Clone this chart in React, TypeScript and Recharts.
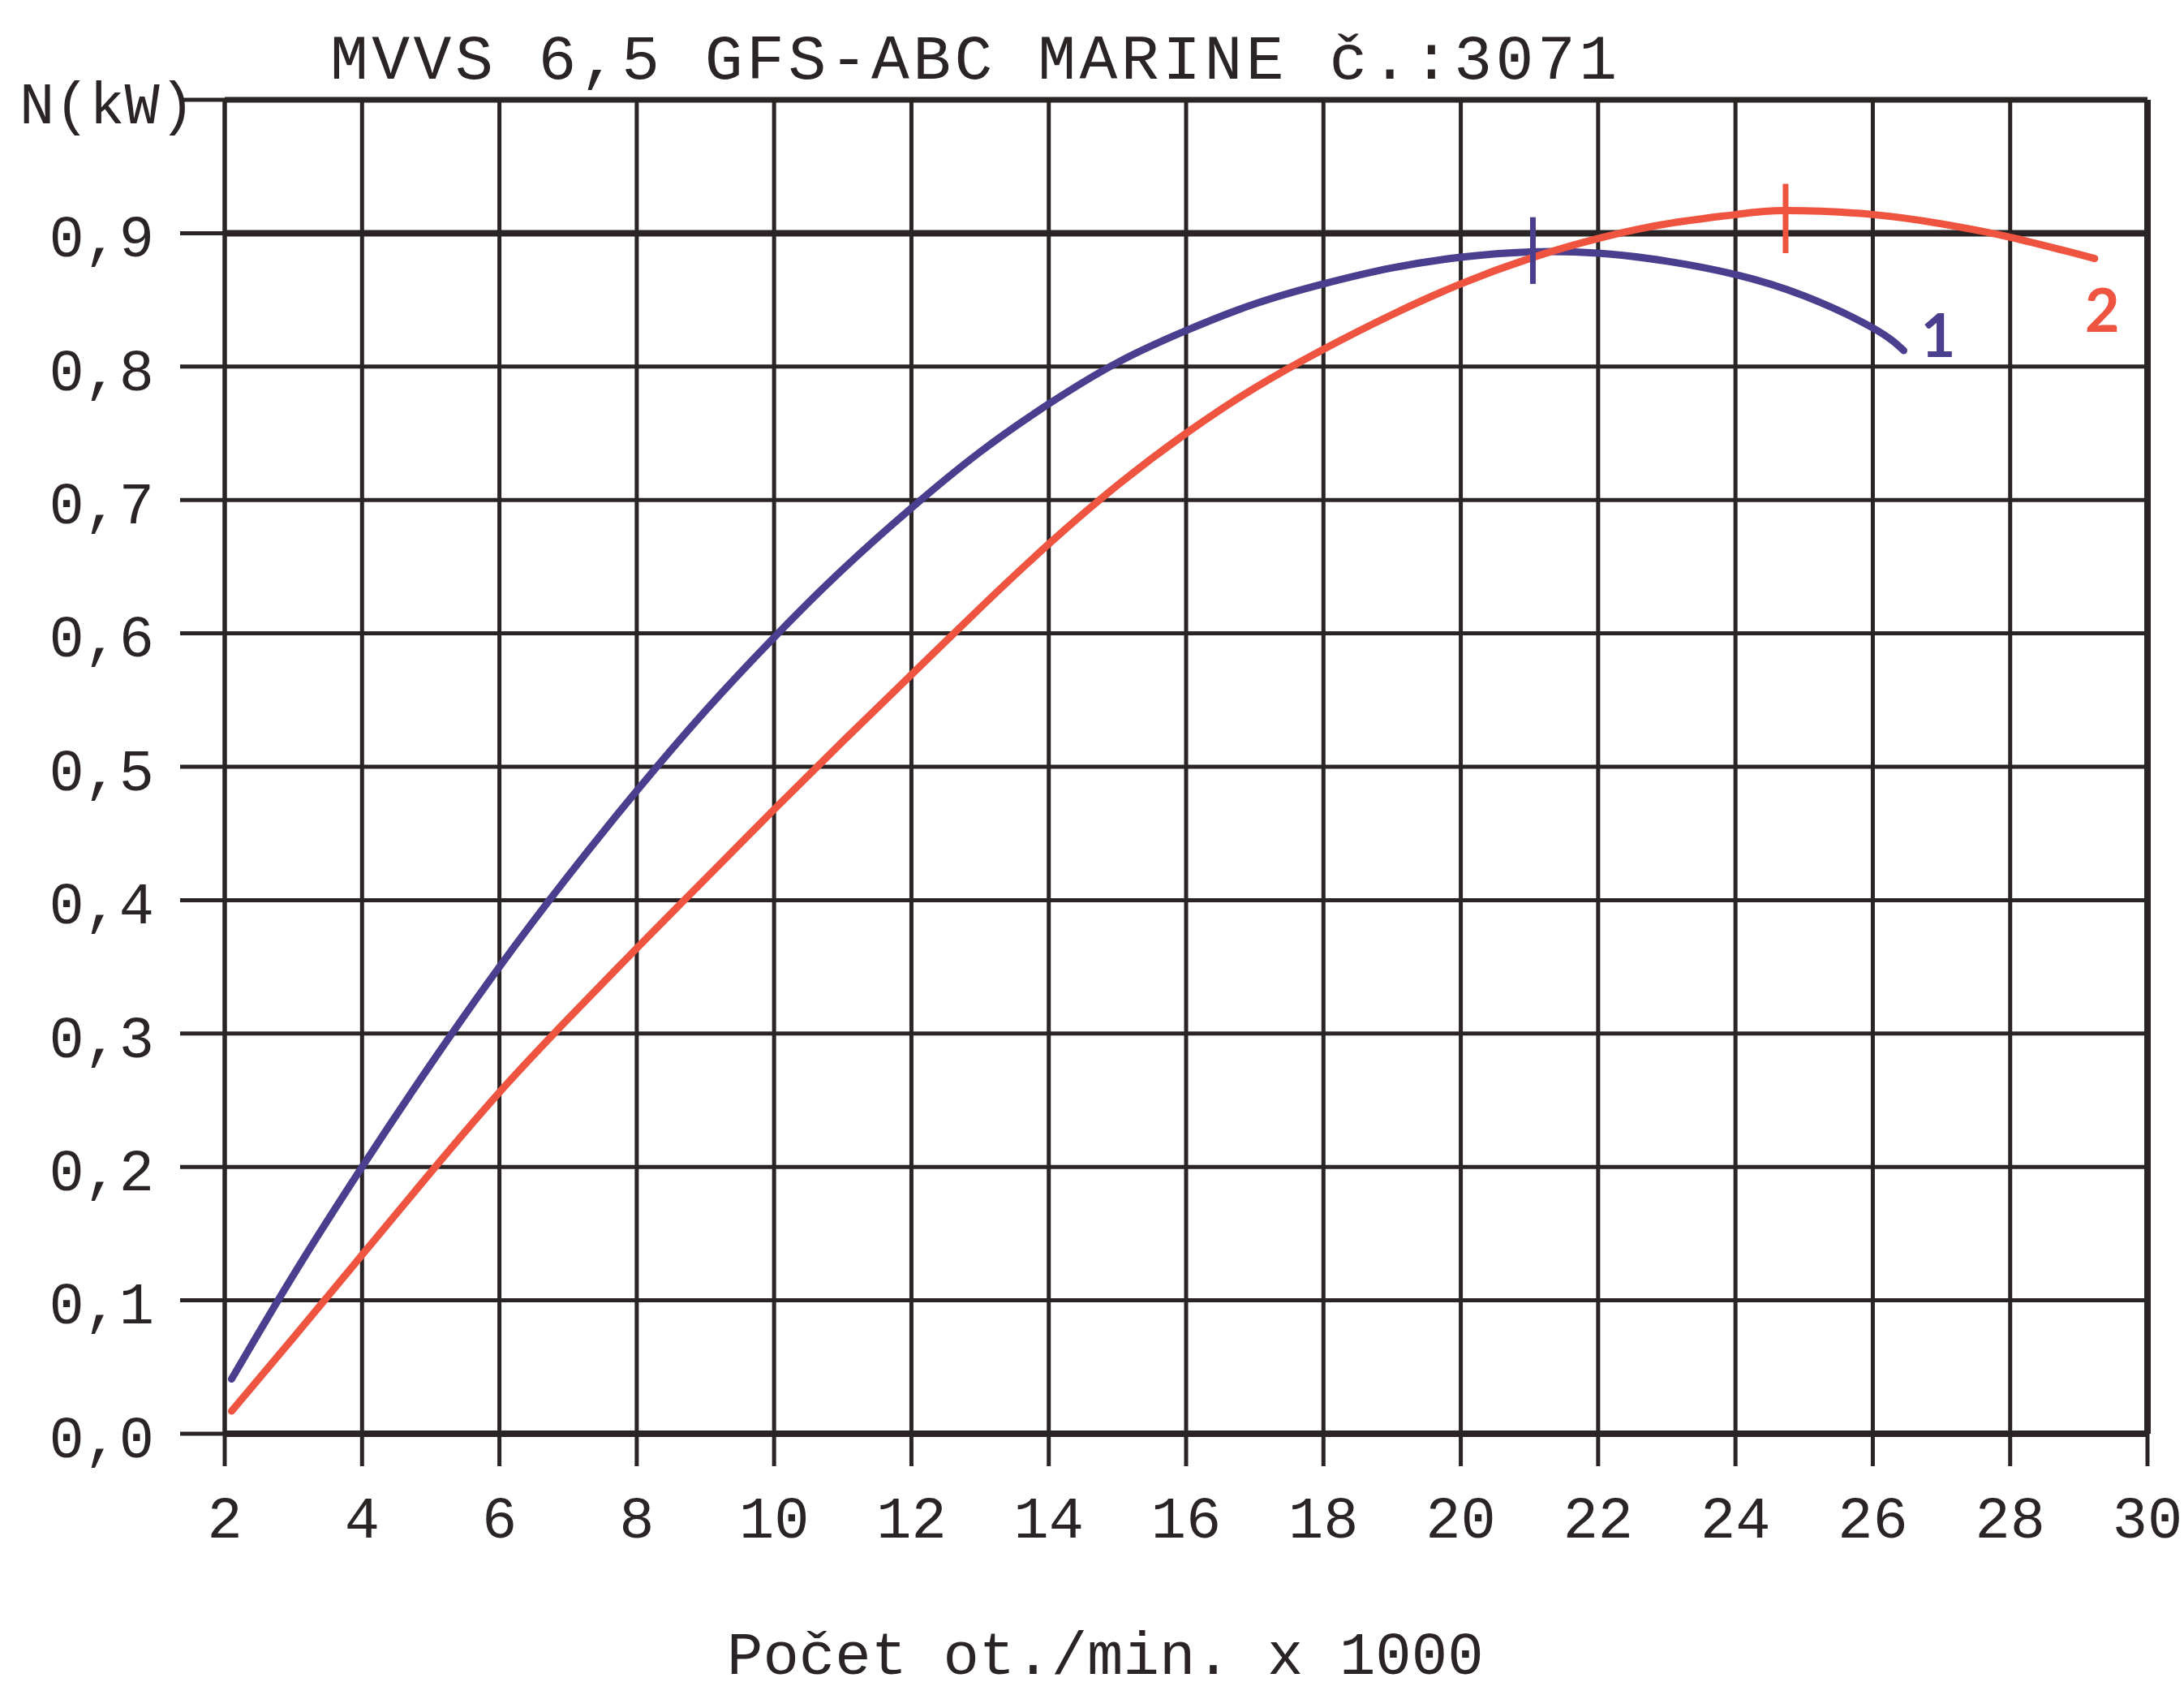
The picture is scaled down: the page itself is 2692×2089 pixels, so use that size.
import React from 'react';
import { LineChart, Line, XAxis, YAxis, CartesianGrid, ReferenceLine, ReferenceDot } from 'recharts';

// otáčky (x 1000 ot./min) a výkon N (kW)
const rpmTicks = [2, 4, 6, 8, 10, 12, 14, 16, 18, 20, 22, 24, 26, 28, 30];
const powerTicks = [0, 0.1, 0.2, 0.3, 0.4, 0.5, 0.6, 0.7, 0.8, 0.9, 1.0];

const rpm1 = [2.1, 3, 4, 5, 6, 7, 8, 9, 10, 11, 12, 13, 14, 15, 16, 17, 18, 19, 20, 21, 22, 23, 24, 25, 26, 26.45];
const power1 = [0.041, 0.119, 0.2, 0.277, 0.35, 0.418, 0.482, 0.542, 0.597, 0.648, 0.694, 0.736, 0.772, 0.803, 0.827, 0.847, 0.862, 0.874, 0.882, 0.886, 0.885, 0.879, 0.869, 0.853, 0.829, 0.812];

const rpm2 = [2.1, 3, 4, 5, 6, 7, 8, 9, 10, 11, 12, 13, 14, 15, 16, 17, 18, 19, 20, 21, 22, 23, 24, 24.73, 26, 27, 28, 29.23];
const power2 = [0.017, 0.072, 0.134, 0.196, 0.256, 0.311, 0.364, 0.416, 0.468, 0.519, 0.569, 0.619, 0.667, 0.711, 0.75, 0.784, 0.813, 0.839, 0.862, 0.881, 0.896, 0.907, 0.914, 0.917, 0.914, 0.907, 0.897, 0.881];

// značky maximálního výkonu
const maxMark1 = { rpm: 21.05, from: 0.862, to: 0.912 };
const maxMark2 = { rpm: 24.73, from: 0.885, to: 0.937 };

// popisky křivek
const curveNames = ['1', '2'];
const namePos1 = { rpm: 26.95, power: 0.823 };
const namePos2 = { rpm: 29.34, power: 0.842 };

const title = 'MVVS 6,5 GFS-ABC MARINE č.:3071';
const xTitle = 'Počet ot./min. x 1000';

const data1 = rpm1.map((r, i) => ({ rpm: r, n: power1[i] }));
const data2 = rpm2.map((r, i) => ({ rpm: r, n: power2[i] }));

const INK = '#2a2425';
const BLUE = '#4a3e8e';
const RED = '#ee5440';
const FONT = '"Liberation Mono", "DejaVu Sans Mono", monospace';

const YTick = ({ x, y, payload }: any) => {
  const v = payload.value;
  const top = Math.abs(v - 1) < 1e-9;
  const text = top ? 'N(kW)' : v.toFixed(1).replace('.', ',');
  return (
    <text x={top ? x + 50 : x} y={y} dy="0.4em" textAnchor="end" fill={INK} fontSize={72} fontFamily={FONT}>
      {text}
    </text>
  );
};

export default function App() {
  return (
    <div style={{ position: 'absolute', left: 0, top: 0, width: 2692, height: 2089, background: '#fff', overflow: 'hidden' }}>
      <div
        style={{
          position: 'absolute', left: 407, top: 37, fontFamily: FONT, fontSize: 78,
          letterSpacing: 4.5, lineHeight: 1, color: INK, whiteSpace: 'nowrap',
        }}
      >
        {title}
      </div>
      <LineChart
        width={2692}
        height={2089}
        margin={{ top: 123, right: 45, bottom: 0, left: 0 }}
      >
        <CartesianGrid stroke={INK} strokeWidth={5} />
        <XAxis
          type="number"
          dataKey="rpm"
          domain={[2, 30]}
          ticks={rpmTicks}
          allowDataOverflow
          height={322}
          tickSize={40}
          tickMargin={37}
          tickLine={{ stroke: INK, strokeWidth: 5 }}
          axisLine={{ stroke: INK, strokeWidth: 8 }}
          tick={{ fill: INK, fontSize: 72, fontFamily: FONT }}
        />
        <YAxis
          type="number"
          domain={[0, 1]}
          ticks={powerTicks}
          width={277}
          tickSize={55}
          tickMargin={32}
          tickLine={{ stroke: INK, strokeWidth: 5 }}
          axisLine={{ stroke: INK, strokeWidth: 5 }}
          tick={<YTick />}
        />
        <ReferenceLine y={0.9} stroke={INK} strokeWidth={8} />
        <ReferenceLine y={1} stroke={INK} strokeWidth={7} />
        <ReferenceLine x={30} stroke={INK} strokeWidth={8} />
        <Line
          data={data1}
          dataKey="n"
          type="natural"
          stroke={BLUE}
          strokeWidth={9}
          strokeLinecap="round"
          dot={false}
          isAnimationActive={false}
        />
        <Line
          data={data2}
          dataKey="n"
          type="natural"
          stroke={RED}
          strokeWidth={9}
          strokeLinecap="round"
          dot={false}
          isAnimationActive={false}
        />
        <ReferenceLine
          segment={[{ x: maxMark1.rpm, y: maxMark1.from }, { x: maxMark1.rpm, y: maxMark1.to }]}
          stroke={BLUE}
          strokeWidth={7}
        />
        <ReferenceLine
          segment={[{ x: maxMark2.rpm, y: maxMark2.from }, { x: maxMark2.rpm, y: maxMark2.to }]}
          stroke={RED}
          strokeWidth={7}
        />
        <ReferenceDot
          x={namePos1.rpm}
          y={namePos1.power}
          r={0}
          stroke="none"
          label={{ value: curveNames[0], position: 'center', fill: BLUE, fontSize: 74, fontWeight: 700, fontFamily: 'Lato, sans-serif' }}
        />
        <ReferenceDot
          x={namePos2.rpm}
          y={namePos2.power}
          r={0}
          stroke="none"
          label={{ value: curveNames[1], position: 'center', fill: RED, fontSize: 74, fontWeight: 700, fontFamily: 'Lato, sans-serif' }}
        />
      </LineChart>
      <div
        style={{
          position: 'absolute', left: 896, top: 2006, fontFamily: FONT, fontSize: 74,
          lineHeight: 1, color: INK, whiteSpace: 'nowrap',
        }}
      >
        {xTitle}
      </div>
    </div>
  );
}
